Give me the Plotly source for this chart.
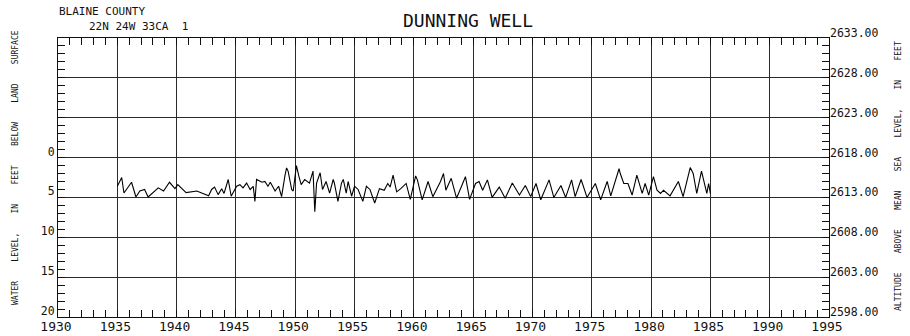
import plotly.graph_objects as go

# Dunning Well hydrograph: water level below land surface, by decimal year
years = [
    1935.0, 1935.37, 1935.56, 1936.2, 1936.57, 1936.9, 1937.3, 1937.6, 1938.45, 1938.9,
    1939.4, 1939.86, 1940.1, 1940.8, 1941.7, 1942.7, 1942.95, 1943.2, 1943.5, 1943.8,
    1944.0, 1944.35, 1944.6, 1945.06, 1945.34, 1945.6, 1945.9, 1946.2, 1946.46, 1946.6,
    1946.74, 1947.2, 1947.44, 1947.7, 1947.9, 1948.3, 1948.6, 1948.85, 1949.13, 1949.27,
    1949.4, 1949.7, 1949.83, 1950.1, 1950.3, 1950.5, 1950.8, 1951.2, 1951.5, 1951.65,
    1951.8, 1952.1, 1952.3, 1952.6, 1952.9, 1953.2, 1953.3, 1953.6, 1953.9, 1954.05,
    1954.3, 1954.46, 1954.75, 1955.0, 1955.3, 1955.7, 1956.0, 1956.3, 1956.7, 1957.1,
    1957.5, 1957.8, 1958.0, 1958.25, 1958.55, 1958.9, 1959.35, 1959.7, 1960.15, 1960.3,
    1960.7, 1961.2, 1961.6, 1962.0, 1962.25, 1962.5, 1962.7, 1963.15, 1963.6, 1964.35,
    1964.7, 1965.2, 1965.5, 1965.8, 1966.2, 1966.6, 1967.2, 1967.7, 1968.3, 1968.9,
    1969.4, 1969.85, 1970.3, 1970.7, 1971.4, 1971.8, 1972.4, 1972.8, 1973.3, 1973.6,
    1974.1, 1974.6, 1975.3, 1975.75, 1976.3, 1976.6, 1977.0, 1977.3, 1977.4, 1977.7,
    1978.05, 1978.4, 1978.8, 1979.25, 1979.5, 1979.8, 1980.2, 1980.5, 1980.8, 1981.05,
    1981.6, 1982.0, 1982.3, 1982.7, 1983.3, 1983.55, 1983.85, 1984.25, 1984.7, 1984.85,
    1985.0,
]
depth_ft = [
    3.6, 2.5, 4.45, 3.1, 4.95, 4.2, 4.0, 4.95, 3.8, 4.2,
    3.1, 3.9, 3.4, 4.4, 4.2, 4.8, 4.0, 3.7, 4.65, 3.9,
    4.5, 2.75, 4.85, 3.6, 3.4, 3.8, 3.2, 4.0, 3.6, 5.5,
    2.75, 3.1, 3.0, 3.6, 3.1, 4.2, 3.6, 4.9, 2.3, 1.3,
    1.7, 4.0, 4.2, 1.0, 2.3, 3.4, 2.75, 3.2, 1.7, 6.8,
    3.2, 1.9, 4.0, 3.0, 4.45, 2.75, 3.2, 5.5, 3.2, 2.75,
    4.45, 3.0, 4.85, 3.6, 4.0, 5.5, 3.6, 4.0, 5.7, 3.9,
    4.1, 3.25, 3.7, 2.2, 4.3, 3.9, 3.25, 5.25, 2.3, 2.8,
    5.3, 3.0, 4.9, 3.7, 3.0, 2.0, 4.1, 2.6, 5.1, 2.4,
    5.25, 3.25, 3.0, 4.1, 2.8, 5.0, 3.7, 5.1, 3.2, 4.7,
    3.5, 4.9, 3.25, 5.3, 2.8, 5.0, 3.5, 5.0, 2.8, 4.9,
    2.75, 5.0, 3.25, 5.3, 3.0, 4.8, 3.0, 1.4, 2.0, 3.25,
    3.25, 4.7, 2.2, 4.5, 3.25, 4.7, 2.4, 4.1, 4.5, 4.1,
    4.8, 3.7, 3.0, 4.9, 1.25, 2.0, 4.5, 1.7, 4.5, 3.25,
    4.5,
]

# land-surface datum used for the altitude scale
land_surface_alt = 2618.0

year_ticks = list(range(1930, 1996, 5))
depth_ticks = [-15, -10, -5, 0, 5, 10, 15, 20]
depth_labels = ["", "", "", "0", "5", "10", "15", "20"]
alt_ticks = [2598, 2603, 2608, 2613, 2618, 2623, 2628, 2633]

W, H = 910, 336
L, T, PW, PH = 58, 38, 771, 279
MONO = "DejaVu Sans Mono"
INK = "#111111"
GRID = "#2a2a2a"


def paper(px, py):
    return (px - L) / PW, (T + PH - py) / PH


fig = go.Figure()
fig.add_trace(go.Scatter(
    x=years, y=depth_ft, mode="lines",
    line=dict(color="black", width=1.1),
    hoverinfo="skip", showlegend=False,
))
# altitude twin of the same record, only to carry the right-hand scale
fig.add_trace(go.Scatter(
    x=years, y=[land_surface_alt - d for d in depth_ft], yaxis="y2",
    mode="lines", line=dict(color="rgba(0,0,0,0)", width=0),
    hoverinfo="skip", showlegend=False,
))

fig.update_layout(
    width=W, height=H,
    margin=dict(l=L, r=W - L - PW, t=T, b=H - T - PH, pad=0),
    paper_bgcolor="white", plot_bgcolor="white",
    showlegend=False,
    xaxis=dict(
        range=[1930, 1995], tickmode="array", tickvals=year_ticks,
        ticks="inside", ticklen=7, tickcolor=INK,
        showline=True, linecolor=INK, linewidth=1, mirror="ticks",
        showgrid=True, gridcolor=GRID, gridwidth=1, zeroline=False,
        minor=dict(tickmode="linear", tick0=1930, dtick=1, ticks="inside",
                   ticklen=7, tickcolor=INK, showgrid=False),
        tickfont=dict(family=MONO, size=13, color=INK),
        ticklabelstandoff=-3, ticklabelshift=-2,
        automargin=False, fixedrange=True,
    ),
    yaxis=dict(
        range=[20, -15], tickmode="array", tickvals=depth_ticks, ticktext=depth_labels,
        ticks="inside", ticklen=7, tickcolor=INK,
        showline=True, linecolor=INK, linewidth=1, mirror="ticks",
        showgrid=True, gridcolor=GRID, gridwidth=1, zeroline=False,
        minor=dict(tickmode="linear", tick0=0, dtick=1, ticks="inside",
                   ticklen=7, tickcolor=INK, showgrid=False),
        tickfont=dict(family=MONO, size=11.5, color=INK),
        ticklabelshift=6,
        automargin=False, fixedrange=True,
    ),
    yaxis2=dict(
        overlaying="y", side="right", range=[2598, 2633],
        tickmode="array", tickvals=alt_ticks, tickformat=".2f",
        ticks="", showline=False, showgrid=False, zeroline=False,
        tickfont=dict(family=MONO, size=11.5, color=INK),
        ticklabelshift=-5,
        automargin=False, fixedrange=True,
    ),
)

annotations = [
    ("DUNNING WELL", 468, 20, 18, "center", 0),
    ("BLAINE COUNTY", 57, 11, 11, "left", 0),
    ("22N 24W 33CA\u00a0\u00a01", 87, 27, 11, "left", 0),
]
for text, px, py, size, xa, ang in annotations:
    ax, ay = paper(px, py)
    fig.add_annotation(
        text=text, x=ax, y=ay, xref="paper", yref="paper",
        xanchor=xa, yanchor="middle", showarrow=False,
        font=dict(family=MONO, size=size, color=INK),
    )

gap = "\u00a0" * 4
left_title = gap.join(["WATER", "LEVEL,", "IN", "FEET", "BELOW", "LAND", "SURFACE"])
right_title = gap.join(["ALTITUDE", "ABOVE", "MEAN", "SEA", "LEVEL,", "IN", "FEET"])
for text, px, py in [(left_title, 15.5, 167.5), (right_title, 898.5, 175.5)]:
    ax, ay = paper(px, py)
    fig.add_annotation(
        text=text, x=ax, y=ay, xref="paper", yref="paper",
        xanchor="center", yanchor="middle", showarrow=False, textangle=-90,
        font=dict(family=MONO, size=8, color=INK),
    )

fig.write_html("out.html")
